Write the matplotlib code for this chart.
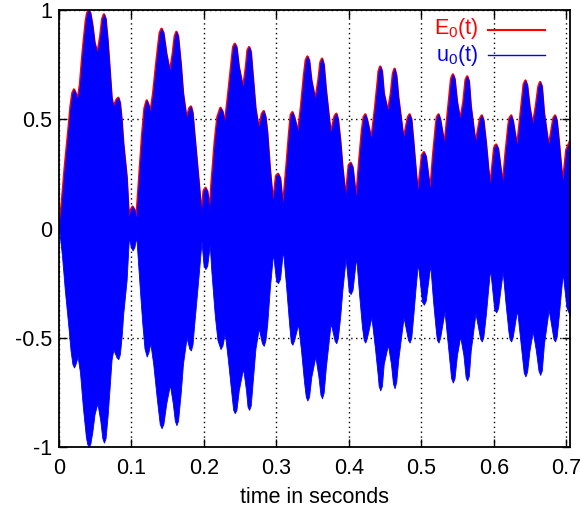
import matplotlib
matplotlib.use("Agg")
import matplotlib.pyplot as plt
import numpy as np

plt.rcParams['font.family'] = ['Liberation Sans', 'DejaVu Sans']
plt.rcParams['mathtext.fontset'] = 'custom'
plt.rcParams['mathtext.rm'] = 'Liberation Sans'
plt.rcParams['mathtext.it'] = 'Liberation Sans:italic'

# envelope E0(t) (time in s, amplitude)
env_t = [0.0, 0.004, 0.008, 0.013, 0.016, 0.0185, 0.0207, 0.0228, 0.0257, 0.029, 0.033, 0.037,
         0.0388, 0.041, 0.0432, 0.046, 0.049, 0.053, 0.057, 0.0598, 0.062, 0.0642, 0.067, 0.070,
         0.0725, 0.075, 0.0795, 0.0818, 0.084, 0.0865, 0.0886, 0.0933, 0.0965, 0.099, 0.1015,
         0.104, 0.1066,
         0.1116, 0.1148, 0.118, 0.121, 0.1235, 0.126, 0.130, 0.135, 0.139, 0.1415, 0.144, 0.148,
         0.153, 0.157, 0.1598, 0.162, 0.1642, 0.168, 0.171, 0.176, 0.1798, 0.182, 0.1842, 0.1865,
         0.1895, 0.193, 0.1966, 0.1995, 0.202, 0.2045, 0.208,
         0.2103, 0.215, 0.2186, 0.2228, 0.2255, 0.2288, 0.233, 0.238, 0.2403, 0.2425, 0.2448,
         0.248, 0.254, 0.258, 0.2601, 0.2623, 0.2645, 0.268, 0.271, 0.2756, 0.280, 0.2825, 0.2848,
         0.2872, 0.2907, 0.2953, 0.2995, 0.3022, 0.305, 0.309,
         0.3137, 0.3174, 0.3198, 0.322, 0.3245, 0.3298, 0.334, 0.338, 0.3405, 0.3427, 0.345,
         0.348, 0.3537, 0.358, 0.3607, 0.3629, 0.3652, 0.368, 0.3748, 0.3804, 0.3826, 0.3848,
         0.388, 0.391, 0.3955, 0.3998, 0.4024, 0.405, 0.41,
         0.414, 0.418, 0.4204, 0.4226, 0.4248, 0.431, 0.436, 0.440, 0.441, 0.4432, 0.4455, 0.448,
         0.4538, 0.458, 0.4608, 0.463, 0.4653, 0.468, 0.4754, 0.4815, 0.4837, 0.486, 0.489, 0.492,
         0.4951, 0.5008, 0.5034, 0.506, 0.5122,
         0.516, 0.520, 0.5214, 0.5236, 0.5258, 0.5319, 0.537, 0.541, 0.5434, 0.5457, 0.549,
         0.5535, 0.558, 0.561, 0.5631, 0.5654, 0.568, 0.5746, 0.5811, 0.5833, 0.5855, 0.589,
         0.592, 0.5948, 0.6005, 0.6031, 0.6057, 0.6122,
         0.616, 0.620, 0.6216, 0.6238, 0.626, 0.632, 0.637, 0.6412, 0.6435, 0.6458, 0.649,
         0.6536, 0.658, 0.6615, 0.6638, 0.6661, 0.669, 0.6756, 0.6822, 0.6844, 0.6866, 0.6895,
         0.6925, 0.695, 0.700, 0.705]
env_v = [0.0, 0.12, 0.28, 0.45, 0.56, 0.62, 0.636, 0.62, 0.586, 0.66, 0.82, 0.95,
         0.985, 1.0, 0.985, 0.93, 0.85, 0.80, 0.88, 0.96, 0.98, 0.96, 0.86, 0.72,
         0.60, 0.555, 0.59, 0.598, 0.575, 0.49, 0.39, 0.235, 0.037, 0.085, 0.10,
         0.085, 0.037,
         0.28, 0.43, 0.55, 0.586, 0.565, 0.525, 0.62, 0.78, 0.895, 0.914, 0.895, 0.80,
         0.715, 0.80, 0.88, 0.90, 0.88, 0.75, 0.62, 0.50, 0.55, 0.558, 0.53, 0.44,
         0.33, 0.20, 0.06, 0.17, 0.186, 0.17, 0.075,
         0.20, 0.40, 0.51, 0.552, 0.535, 0.479, 0.60, 0.76, 0.83, 0.845, 0.83,
         0.74, 0.64, 0.74, 0.815, 0.83, 0.81, 0.67, 0.55, 0.456, 0.525, 0.537, 0.51,
         0.44, 0.28, 0.113, 0.24, 0.25, 0.23, 0.098,
         0.28, 0.433, 0.52, 0.532, 0.51, 0.438, 0.56, 0.70, 0.77, 0.787, 0.77,
         0.68, 0.586, 0.68, 0.76, 0.777, 0.75, 0.64, 0.433, 0.515, 0.525, 0.50,
         0.40, 0.28, 0.136, 0.29, 0.30, 0.28, 0.131,
         0.30, 0.45, 0.51, 0.522, 0.50, 0.406, 0.55, 0.68, 0.72, 0.741, 0.72, 0.62,
         0.532, 0.62, 0.71, 0.731, 0.70, 0.60, 0.406, 0.51, 0.522, 0.50, 0.39, 0.27,
         0.159, 0.335, 0.349, 0.33, 0.166,
         0.33, 0.47, 0.51, 0.522, 0.50, 0.38, 0.55, 0.685, 0.705, 0.685, 0.58,
         0.494, 0.58, 0.68, 0.696, 0.675, 0.56, 0.388, 0.505, 0.517, 0.495, 0.39,
         0.28, 0.186, 0.37, 0.384, 0.365, 0.197,
         0.34, 0.47, 0.505, 0.517, 0.495, 0.372, 0.53, 0.66, 0.677, 0.655, 0.56,
         0.471, 0.56, 0.65, 0.67, 0.65, 0.53, 0.372, 0.505, 0.517, 0.495, 0.40,
         0.29, 0.205, 0.36, 0.40]

x_ticks = [0, 0.1, 0.2, 0.3, 0.4, 0.5, 0.6, 0.7]
x_tick_labels = ['0', '0.1', '0.2', '0.3', '0.4', '0.5', '0.6', '0.7']
y_ticks = [-1, -0.5, 0, 0.5, 1]
y_tick_labels = ['-1', '-0.5', '0', '0.5', '1']

env_t = np.array(env_t)
env_v = np.array(env_v)

fig = plt.figure(figsize=(5.8, 5.11), dpi=100)
ax = fig.add_axes([59/580, 1-447/511, 511/580, 437/511])

ax.plot(env_t, env_v, color='#ff0000', lw=1.8, zorder=2)
ax.fill_between(env_t, -env_v, env_v, color='#0000ff', lw=0.6, edgecolor='#0000ff', zorder=3)

ax.set_xlim(0, 0.705)
ax.set_ylim(-1, 1)
ax.set_xticks(x_ticks)
ax.set_xticklabels(x_tick_labels)
ax.set_yticks(y_ticks)
ax.set_yticklabels(y_tick_labels)
ax.tick_params(direction='in', length=6, width=1, top=True, right=True,
               labelsize=15.5, colors='black')
ax.tick_params(axis='x', pad=8)
ax.tick_params(axis='y', pad=5)
ax.grid(True, color='black', linestyle=(0, (1, 2.5)), lw=1, zorder=1)
ax.set_axisbelow(True)
for s in ax.spines.values():
    s.set_linewidth(1.3)
    s.set_zorder(5)
ax.set_xlabel('time in seconds', fontsize=15.5, labelpad=6)

# gnuplot-style key: text right-aligned, sample line after it
ax.text(0.820, 0.9588, 'E$_0$(t)', color='#ff0000', fontsize=15.5, ha='right', va='center',
        transform=ax.transAxes, zorder=6)
ax.plot([0.8395, 0.951], [0.955, 0.955], color='#ff0000', lw=1.5, transform=ax.transAxes, zorder=6)
ax.text(0.820, 0.897, 'u$_0$(t)', color='#0000ff', fontsize=15.5, ha='right', va='center',
        transform=ax.transAxes, zorder=6)
ax.plot([0.8395, 0.951], [0.897, 0.897], color='#0000ff', lw=1.0, transform=ax.transAxes, zorder=6)

fig.savefig('out.png', dpi=100)
